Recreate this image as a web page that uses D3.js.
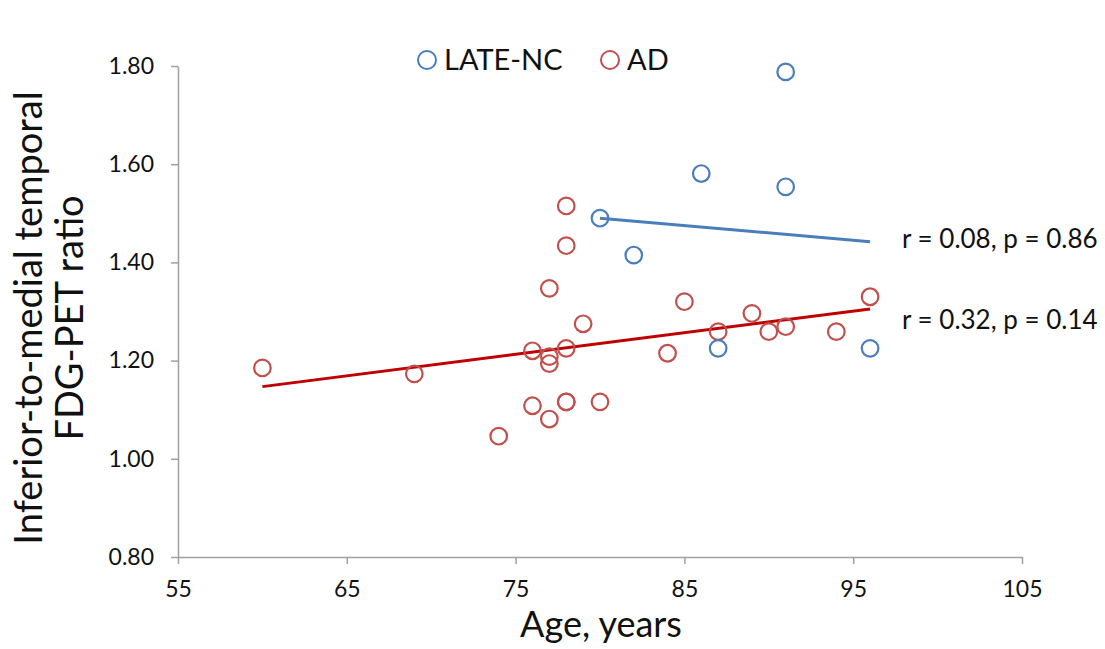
<!DOCTYPE html>
<html>
<head>
<meta charset="utf-8">
<script src="https://cdn.jsdelivr.net/npm/d3@7"></script>
<style>
  body { margin: 0; background: #fff; }
  text { font-family: Lato, "Open Sans", sans-serif; fill: #111; }
</style>
</head>
<body>
<div id="grafiek"></div>
<script>
// ages and ratios
const lateAge = [86, 91, 91, 80, 82, 87, 96];
const lateRatio = [1.581, 1.554, 1.788, 1.490, 1.415, 1.225, 1.225];

const adAge = [60, 69, 74, 76, 76, 77, 77, 77, 77, 78, 78, 78, 78, 78, 79, 80, 84, 85, 87, 89, 90, 91, 94, 96];
const adRatio = [1.185, 1.173, 1.046, 1.220, 1.108, 1.347, 1.208, 1.194, 1.081, 1.515, 1.434, 1.225, 1.116, 1.116,
  1.275, 1.116, 1.215, 1.320, 1.259, 1.296, 1.259, 1.269, 1.259, 1.330];

// trend lines (start, end)
const lateFit = [[80, 1.490], [96, 1.442]];
const adFit = [[60, 1.147], [96, 1.305]];

const xTicks = [55, 65, 75, 85, 95, 105];
const yTicks = [0.8, 1.0, 1.2, 1.4, 1.6, 1.8];

const blauw = "#4a7ebb";
const rood = "#c0504d";

const width = 1105, height = 649;
const svg = d3.select("#grafiek").append("svg")
  .attr("width", width).attr("height", height);

const x = d3.scaleLinear().domain([55, 105]).range([178, 1022]);
const y = d3.scaleLinear().domain([0.8, 1.8]).range([557, 66]);

// axes
const xAxis = d3.axisBottom(x).tickValues(xTicks).tickSize(7).tickSizeOuter(0).tickPadding(17);
const gx = svg.append("g").attr("transform", `translate(0,${y(0.8)})`).call(xAxis);
const yAxis = d3.axisLeft(y).tickValues(yTicks).tickSize(7).tickSizeOuter(0).tickPadding(17)
  .tickFormat(d3.format(".2f"));
const gy = svg.append("g").attr("transform", `translate(${x(55)},0)`).call(yAxis);

[gx, gy].forEach(g => {
  g.select(".domain").attr("stroke", "#a0a0a0").attr("stroke-width", 1.5);
  g.selectAll(".tick line").attr("stroke", "#a0a0a0").attr("stroke-width", 1.5);
  g.selectAll(".tick text").style("font-size", "23px").attr("fill", "#111");
});

// trend lines
const lijn = d3.line().x(d => x(d[0])).y(d => y(d[1]));
svg.append("path").datum(adFit).attr("d", lijn)
  .attr("stroke", "#c00000").attr("stroke-width", 3).attr("fill", "none");
svg.append("path").datum(lateFit).attr("d", lijn)
  .attr("stroke", blauw).attr("stroke-width", 3).attr("fill", "none");

// points
function punten(ages, ratios, kleur) {
  svg.append("g").selectAll("circle")
    .data(ages.map((a, i) => ({ a: a, r: ratios[i] })))
    .join("circle")
    .attr("cx", d => x(d.a))
    .attr("cy", d => y(d.r))
    .attr("r", 8.3)
    .attr("fill", "none")
    .attr("stroke", kleur)
    .attr("stroke-width", 2.2);
}
punten(adAge, adRatio, rood);
punten(lateAge, lateRatio, blauw);

// r / p labels
svg.append("text").attr("x", 902).attr("y", y(1.448)).attr("dy", "0.35em")
  .style("font-size", "26px").text("r = 0.08, p = 0.86");
svg.append("text").attr("x", 902).attr("y", y(1.283)).attr("dy", "0.35em")
  .style("font-size", "26px").text("r = 0.32, p = 0.14");

// legend
const legenda = [{ naam: "LATE-NC", kleur: blauw, x: 427 }, { naam: "AD", kleur: rood, x: 610 }];
legenda.forEach(l => {
  svg.append("circle").attr("cx", l.x).attr("cy", 60).attr("r", 9)
    .attr("fill", "none").attr("stroke", l.kleur).attr("stroke-width", 2);
  svg.append("text").attr("x", l.x + 17).attr("y", 60).attr("dy", "0.36em")
    .style("font-size", "29px").text(l.naam);
});

// axis titles
svg.append("text").attr("x", 601).attr("y", 637).attr("text-anchor", "middle")
  .style("font-size", "36px").text("Age, years");
const yt = svg.append("text").attr("transform", "translate(0,318) rotate(-90)")
  .attr("text-anchor", "middle").style("font-size", "38px");
yt.append("tspan").attr("x", 0).attr("y", 42).text("Inferior-to-medial temporal");
yt.append("tspan").attr("x", 0).attr("y", 83).text("FDG-PET ratio");
</script>
</body>
</html>
